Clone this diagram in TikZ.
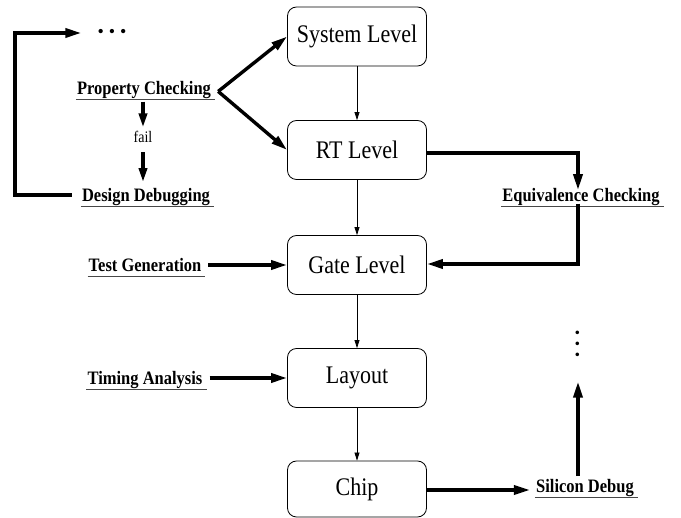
\documentclass[tikz,border=0pt]{standalone}
\usepackage{fontspec}
\setmainfont{Liberation Serif}
\usetikzlibrary{arrows.meta}
\newcommand{\tall}[1]{\scalebox{1}[1.15]{#1}}
\begin{document}
\begin{tikzpicture}[x=1pt,y=-1pt,
  level/.style={draw,line width=0.8pt,rounded corners=9pt,minimum width=139pt,
    minimum height=59pt,font=\fontsize{22}{24}\selectfont,inner sep=0pt},
  task/.style={font=\fontsize{16.5}{18}\bfseries\selectfont,anchor=base,
    text depth=4pt,inner xsep=1pt,inner ysep=0.5pt,
    append after command={(\tikzlastnode.south west) edge[draw=black!72,line width=1.6pt]
      ([xshift=3pt]\tikzlastnode.south east)}},
  thin/.style={line width=0.8pt,-{Triangle[length=8pt,width=5pt]}},
  thick/.style={line width=3.4pt,-{Triangle[length=16pt,width=9pt]}},
  dots/.style={inner sep=0pt}]
\useasboundingbox (0,0) rectangle (681,518);

% design levels
\node[level] (sys)    at (357,36.5)  {\tall{System Level}};
\node[level] (rt)     at (357,150)   {\tall{RT Level}};
\node[level] (gate)   at (357,265)   {\tall{Gate Level}};
\node[level] (layout) at (357,378)   {\tall{Layout}};
\node[level,minimum height=56pt] (chip) at (357,489) {\tall{Chip}};

\draw[thin] (sys) -- (rt);
\draw[thin] (rt) -- (gate);
\draw[thin] (gate) -- (layout);
\draw[thin] (layout) -- (chip);

% verification and debug tasks
\node[task] (prop)    at (144,95)  {\tall{Property Checking}};
\node[font=\fontsize{14}{15}\selectfont,anchor=base,inner sep=1pt] (fail) at (143,143) {\tall{fail}};
\node[task] (debug)   at (146,202) {\tall{Design Debugging}};
\node[task] (equiv)   at (581,202) {\tall{Equivalence Checking}};
\node[task] (testgen) at (145,272) {\tall{Test Generation}};
\node[task] (timing)  at (145,385) {\tall{Timing Analysis}};
\node[task] (silicon) at (585,493) {\tall{Silicon Debug}};

\node[dots,font=\fontsize{18}{18}\selectfont] (hdots) at (112,33)
  {\textbullet\hspace{5pt}\textbullet\hspace{5pt}\textbullet};
\node[dots,rotate=90,font=\fontsize{15}{15}\selectfont] (vdots) at (579,344)
  {\textbullet\hspace{5.5pt}\textbullet\hspace{5.5pt}\textbullet};

% property checking / debugging loop
\coordinate (fork) at ([xshift=6pt,yshift=-1pt]prop.east);
\draw[thick,line join=miter] (fork) -- (sys.west);
\draw[thick,line join=miter] (fork) -- (rt.west);
\draw[thick,-{Triangle[length=14pt,width=8pt]},shorten <=2pt,shorten >=3pt]
  (prop.south -| fail.north) -- (fail.north);
\draw[thick,-{Triangle[length=14pt,width=8pt]},shorten <=8pt,shorten >=6pt]
  (fail.south) -- (fail.south |- debug.north);
\coordinate (loopL) at (15,195);
\coordinate (loopT) at (15,33);
\draw[thick,shorten <=9pt] (debug.west |- loopL) -- (loopL) -- (loopT)
  -- ([xshift=-16pt]hdots.west);

% equivalence checking
\draw[thick] ([yshift=-3pt]rt.east) -| ([xshift=-3pt,yshift=-2pt]equiv.north);
\draw[thick] ([xshift=-3pt,yshift=3pt]equiv.south) |- ([yshift=1pt]gate.east);

% test generation and timing analysis
\draw[thick,shorten <=6pt] (testgen.east |- gate.west) -- (gate.west);
\draw[thick,shorten <=6pt] (timing.east |- layout.west) -- (layout.west);

% silicon debug
\draw[thick] ([yshift=-1pt]chip.east) -- ([xshift=-5pt,yshift=-1pt]chip.east -| silicon.west);
\draw[thick,shorten <=3pt,shorten >=24pt] ([xshift=-7pt]silicon.north) -- ([xshift=-7pt]silicon.north |- vdots.west);
\end{tikzpicture}
\end{document}
